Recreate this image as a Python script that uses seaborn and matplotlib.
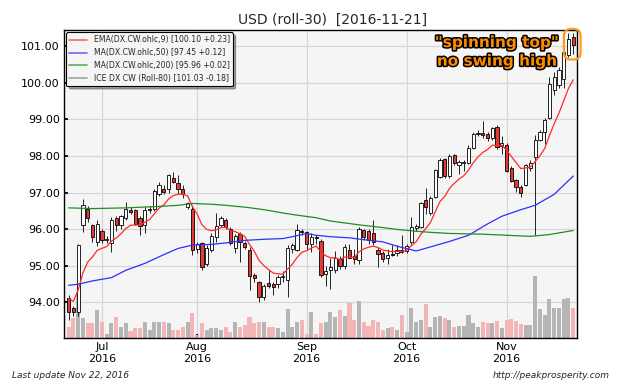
import numpy as np
import pandas as pd
import matplotlib
matplotlib.use("Agg")
import matplotlib.pyplot as plt
import matplotlib.patheffects as pe
from matplotlib.patches import FancyBboxPatch
from matplotlib.lines import Line2D
from matplotlib.ticker import FormatStrFormatter
import seaborn as sns

# daily OHLC of the ICE dollar index
opens = [94.10, 93.85, 93.72, 96.10, 96.56, 96.10, 95.65, 95.94, 95.70, 95.62,
         96.31, 96.10, 96.31, 96.52, 96.51, 96.31, 96.10, 96.52, 96.56, 96.97,
         97.11, 97.11, 97.41, 97.26, 97.11, 96.60, 96.56, 95.45, 95.62, 95.04,
         95.44, 95.77, 96.10, 96.26, 96.01, 95.47, 95.86, 95.62, 95.44, 94.73,
         94.55, 94.13, 94.51, 94.49, 94.49, 94.68, 94.60, 95.45, 95.44, 95.95,
         95.92, 95.58, 95.78, 95.68, 94.78, 94.89, 94.87, 95.19, 94.98, 95.44,
         95.26, 95.15, 95.97, 95.95, 95.89, 95.42, 95.35, 95.22, 95.33, 95.35,
         95.42, 95.40, 95.65, 96.03, 96.06, 96.79, 96.44, 96.88, 97.42, 97.93,
         97.44, 98.04, 97.74, 97.80, 97.81, 98.23, 98.60, 98.62, 98.60, 98.48,
         98.80, 98.28, 98.30, 97.68, 97.34, 97.16, 97.21, 97.66, 97.98, 98.43,
         98.66, 99.03, 99.80, 99.94, 100.12, 100.76, 101.25]
highs = [94.19, 93.90, 95.60, 96.83, 96.62, 96.15, 96.24, 96.00, 95.82, 96.33,
         96.35, 96.38, 96.74, 96.60, 96.55, 96.35, 96.60, 96.62, 97.11, 97.29,
         97.20, 97.52, 97.56, 97.47, 97.20, 96.75, 96.65, 95.65, 95.65, 95.55,
         95.89, 96.44, 96.35, 96.30, 96.06, 95.86, 95.92, 95.68, 95.50, 94.80,
         94.58, 94.50, 94.87, 94.55, 94.75, 94.85, 95.55, 95.62, 96.15, 96.00,
         95.95, 95.88, 95.85, 95.72, 95.00, 95.20, 95.40, 95.25, 95.58, 95.58,
         95.45, 96.05, 96.00, 96.00, 96.26, 95.50, 95.40, 95.45, 95.55, 95.55,
         95.83, 95.60, 96.33, 96.15, 96.75, 97.13, 96.90, 97.65, 97.95, 97.95,
         98.05, 98.06, 97.88, 97.88, 98.30, 98.65, 98.70, 98.95, 98.65, 98.80,
         98.85, 98.55, 98.35, 97.73, 97.38, 97.20, 97.77, 97.88, 98.57, 98.70,
         99.05, 100.16, 100.30, 100.44, 100.89, 101.38, 101.38]
lows = [93.51, 93.62, 93.62, 95.92, 96.20, 95.65, 95.53, 95.62, 95.62, 95.38,
        95.95, 96.01, 96.24, 96.40, 96.10, 95.83, 95.88, 96.45, 96.50, 96.90,
        96.95, 97.00, 97.25, 96.97, 96.85, 96.55, 95.28, 95.35, 94.88, 94.98,
        95.38, 95.65, 96.05, 96.00, 95.55, 95.35, 95.10, 95.45, 94.33, 94.55,
        94.01, 94.05, 94.40, 94.20, 94.40, 94.55, 94.15, 95.35, 95.40, 95.85,
        95.42, 95.38, 95.60, 94.70, 94.45, 94.37, 94.80, 94.90, 94.92, 95.20,
        95.05, 95.05, 95.70, 95.60, 95.55, 94.95, 95.10, 95.05, 95.25, 95.25,
        95.35, 95.35, 95.60, 95.95, 96.02, 96.42, 96.38, 96.85, 97.40, 97.40,
        97.40, 97.75, 97.50, 97.60, 97.78, 98.20, 98.55, 98.50, 98.40, 98.45,
        98.20, 98.05, 97.55, 97.28, 97.02, 96.89, 97.19, 97.58, 95.84, 98.40,
        98.34, 99.00, 99.66, 99.85, 99.85, 100.70, 100.80]
closes = [93.74, 93.72, 95.55, 96.67, 96.29, 95.79, 96.15, 95.69, 95.72, 96.26,
          96.10, 96.35, 96.56, 96.47, 96.15, 96.08, 96.51, 96.55, 97.04, 97.20,
          97.01, 97.47, 97.29, 97.11, 96.97, 96.70, 95.44, 95.60, 94.95, 95.49,
          95.80, 96.08, 96.29, 96.06, 95.62, 95.80, 95.65, 95.50, 94.71, 94.65,
          94.13, 94.44, 94.44, 94.42, 94.69, 94.72, 95.49, 95.55, 95.97, 95.93,
          95.58, 95.77, 95.75, 94.74, 94.86, 94.97, 95.22, 94.98, 95.51, 95.22,
          95.17, 96.01, 95.77, 95.69, 95.65, 95.33, 95.17, 95.30, 95.30, 95.42,
          95.37, 95.53, 96.06, 96.08, 96.70, 96.60, 96.86, 97.62, 97.90, 97.44,
          97.99, 97.81, 97.83, 97.83, 98.23, 98.61, 98.63, 98.58, 98.50, 98.77,
          98.25, 98.35, 97.59, 97.31, 97.14, 97.00, 97.75, 97.80, 98.43, 98.66,
          98.98, 99.98, 100.16, 100.35, 100.85, 101.21, 101.03]
volume = [11, 20, 46, 20, 15, 15, 28, 16, 4, 15,
          21, 11, 15, 7, 10, 10, 16, 8, 16, 16,
          16, 15, 8, 8, 11, 16, 25, 3, 15, 8,
          10, 10, 8, 11, 6, 16, 11, 13, 21, 15,
          16, 16, 11, 11, 10, 6, 29, 11, 16, 18,
          4, 26, 4, 15, 16, 26, 21, 28, 22, 35,
          18, 37, 16, 12, 18, 16, 8, 10, 11, 8,
          23, 6, 30, 16, 18, 34, 11, 21, 22, 20,
          18, 11, 12, 12, 23, 15, 11, 16, 15, 15,
          17, 10, 18, 19, 17, 14, 13, 13, 62, 29,
          23, 39, 30, 30, 39, 40, 30]

# moving averages (trading-day index, value)
ma50_idx = [0, 2, 5, 9, 12, 16, 20, 23, 26, 30, 33, 37, 41, 45, 47, 50, 52, 55,
            59, 62, 66, 69, 73, 76, 80, 84, 88, 91, 95, 98, 102, 106]
ma50_val = [94.46, 94.49, 94.58, 94.67, 94.87, 95.06, 95.30, 95.47, 95.56, 95.58,
            95.62, 95.69, 95.72, 95.74, 95.79, 95.88, 95.83, 95.79, 95.76, 95.71,
            95.65, 95.53, 95.40, 95.51, 95.66, 95.83, 96.14, 96.35, 96.53, 96.65,
            96.95, 97.45]
ma200_idx = [0, 5, 12, 19, 23, 26, 30, 33, 37, 40, 42, 45, 48, 52, 55, 59, 62,
             66, 69, 73, 76, 80, 87, 92, 97, 101, 106]
ma200_val = [96.58, 96.56, 96.58, 96.62, 96.65, 96.70, 96.68, 96.65, 96.60, 96.55,
             96.51, 96.44, 96.38, 96.31, 96.22, 96.15, 96.10, 96.04, 95.99, 95.94,
             95.91, 95.88, 95.86, 95.83, 95.80, 95.85, 95.96]
ema_prev = 94.19  # EMA level just before the first bar

legend_labels = ["EMA(DX.CW.ohlc,9) [100.10 +0.23]",
                 "MA(DX.CW.ohlc,50) [97.45 +0.12]",
                 "MA(DX.CW.ohlc,200) [95.96 +0.02]",
                 "ICE DX CW (Roll-80) [101.03 -0.18]"]

sns.set_theme(style="whitegrid", rc={
    "axes.facecolor": "#f5f5f5",
    "axes.edgecolor": "black",
    "grid.color": "#d6d6d6",
})
plt.rcParams["font.family"] = ["DejaVu Sans"]

dates = pd.bdate_range("2016-06-22", "2016-11-21")
dates = dates.drop(pd.to_datetime(["2016-07-04", "2016-09-05"]))

df = pd.DataFrame({"Date": dates, "Open": opens, "High": highs,
                   "Low": lows, "Close": closes, "Volume": volume})
df["x"] = np.arange(len(df))
up = (df["Close"] >= df["Open"]).to_numpy()

ema = pd.Series([ema_prev] + closes).ewm(span=9, adjust=False).mean().iloc[1:].to_numpy()

fig = plt.figure(figsize=(6.4, 3.84), dpi=100)
ax = fig.add_axes([0.1, 0.12, 0.8016, 0.802])

ymin, ymax = 93.02, 101.45

# volume bars along the bottom
vol_h = df["Volume"] / df["Volume"].max() * 0.2 * (ymax - ymin)
ax.bar(df["x"], vol_h, bottom=ymin, width=0.85,
       color=np.where(up, "#b5b5b5", "#f3b5b5"), linewidth=0, zorder=1)

# candles
ax.vlines(df["x"], df["Low"], df["High"], color="black", linewidth=0.6, zorder=3)
body_lo = np.minimum(df["Open"], df["Close"])
body_h = np.maximum((df["Close"] - df["Open"]).abs(), 0.02)
ax.bar(df["x"], body_h, bottom=body_lo, width=0.68,
       color=np.where(up, "white", "#e53935"), edgecolor="black",
       linewidth=0.6, zorder=4)

sns.lineplot(x=df["x"], y=ema, ax=ax, color="#ff2a2a", linewidth=0.9, zorder=5)
sns.lineplot(x=ma50_idx, y=ma50_val, ax=ax, color="#2f2fff", linewidth=0.9, zorder=5)
sns.lineplot(x=ma200_idx, y=ma200_val, ax=ax, color="#1f8f1f", linewidth=0.9, zorder=5)

ax.set_xlim(-0.97, 106.8)
ax.set_ylim(ymin, ymax)
ax.set_xlabel("")
ax.set_ylabel("")

first_days = df[df["Date"].dt.month > 6].groupby(df["Date"].dt.month)["x"].min()
ax.set_xticks(first_days.to_numpy())
ax.set_xticklabels([df["Date"][i].strftime("%b\n%Y") for i in first_days])
ax.set_yticks(range(94, 102))
ax.yaxis.set_major_formatter(FormatStrFormatter("%.2f"))
ax.tick_params(axis="both", labelsize=8, length=3, direction="in",
               bottom=True, left=True, color="black", labelcolor="black", pad=3)
ax.grid(True, color="#d6d6d6", linewidth=0.9)
ax.set_axisbelow(True)
for s in ax.spines.values():
    s.set_color("black")
    s.set_linewidth(1.0)

handles = [Line2D([], [], color=c, linewidth=1.2, alpha=0.7)
           for c in ["#ff2a2a", "#2f2fff", "#1f8f1f", "#808080"]]
leg = ax.legend(handles, legend_labels, loc="upper left", fontsize=5.6,
                frameon=True, shadow=True, fancybox=True, framealpha=1,
                edgecolor="black", borderaxespad=0.3, handlelength=2.3,
                labelspacing=0.5)
leg.get_frame().set_linewidth(0.8)
leg.set_zorder(10)

# annotation for the last candle
ax.text(0.843, 0.929, '"spinning top"\nno swing high', transform=ax.transAxes,
        ha="center", va="center", fontsize=11, fontweight="bold",
        color="#ff8c00", linespacing=1.3, zorder=8,
        path_effects=[pe.withStroke(linewidth=2.2, foreground="black")])

last = df.iloc[-1]
box = FancyBboxPatch((last["x"] - 1.95, last["Low"] - 0.16), 3.5,
                     last["High"] - last["Low"] + 0.26,
                     boxstyle="round,pad=0,rounding_size=1.5", mutation_aspect=0.13,
                     facecolor="none", edgecolor="#ff9a1a", linewidth=1.6,
                     clip_on=False, zorder=9)
ax.add_patch(box)

fig.text(0.52, 0.948, "USD (roll-30)  [2016-11-21]", ha="center", va="center",
         fontsize=10)
fig.text(0.019, 0.023, "Last update Nov 22, 2016", style="italic", fontsize=6.5,
         ha="left", va="center")
fig.text(0.953, 0.023, "http://peakprosperity.com", style="italic", fontsize=6.5,
         ha="right", va="center")

fig.savefig("out.png", dpi=100)
